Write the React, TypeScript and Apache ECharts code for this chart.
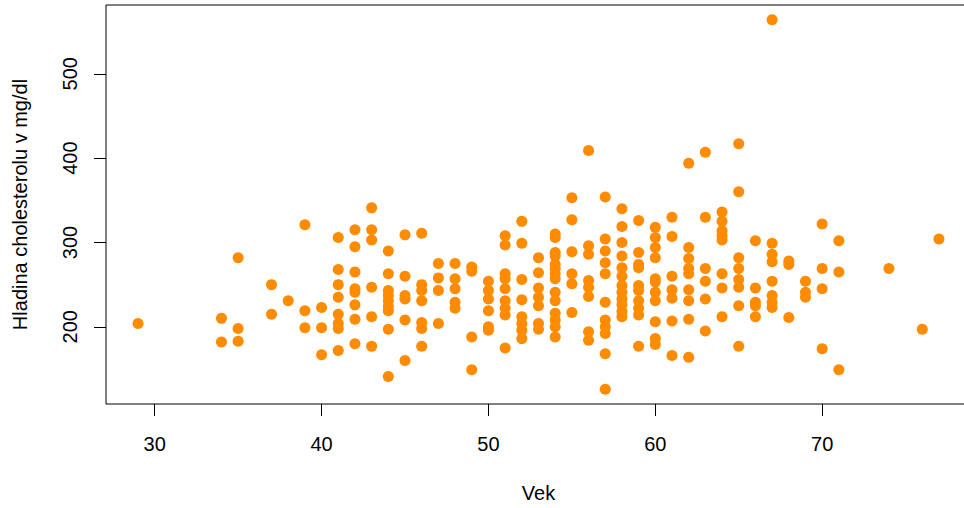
import React, { useEffect, useRef } from "react";
import * as echarts from "echarts";

// Age groups (x) and the cholesterol values (y) read for each age
const ages = [29, 34, 35, 37, 38, 39, 40, 41, 42, 43, 44, 45, 46, 47, 48, 49, 50, 51, 52, 53, 54, 55, 56, 57, 58, 59, 60, 61, 62, 63, 64, 65, 66, 67, 68, 69, 70, 71, 74, 76, 77];
const cholByAge = [
  [204],
  [210, 182],
  [282, 198, 183],
  [250, 215],
  [231],
  [321, 219, 199],
  [223, 199, 167],
  [306, 268, 250, 235, 215, 204, 198, 172],
  [315, 295, 265, 245, 241, 226, 209, 180],
  [341, 315, 303, 247, 212, 177],
  [290, 263, 243, 237, 231, 224, 219, 197, 141],
  [309, 260, 237, 233, 208, 160],
  [311, 250, 243, 231, 205, 198, 177],
  [275, 258, 243, 204],
  [275, 257, 245, 229, 222],
  [271, 266, 188, 149],
  [254, 243, 233, 219, 200, 196],
  [308, 297, 263, 257, 245, 231, 222, 214, 175],
  [325, 299, 256, 232, 212, 204, 196, 186],
  [282, 264, 246, 235, 225, 204, 197],
  [310, 306, 288, 284, 274, 269, 263, 257, 241, 231, 216, 208, 200, 188],
  [353, 327, 289, 263, 251, 217],
  [409, 296, 286, 255, 247, 236, 194, 184],
  [354, 304, 290, 276, 263, 229, 208, 200, 192, 168, 126],
  [340, 319, 300, 284, 270, 260, 249, 241, 233, 226, 218, 212],
  [326, 288, 274, 270, 249, 243, 231, 222, 214, 177],
  [318, 306, 294, 282, 257, 253, 241, 231, 206, 186, 179],
  [330, 307, 260, 244, 234, 207, 166],
  [394, 294, 281, 269, 263, 244, 231, 209, 164],
  [407, 330, 269, 254, 233, 195],
  [336, 325, 314, 308, 303, 263, 246, 212],
  [417, 360, 282, 269, 256, 247, 225, 177],
  [302, 246, 229, 225, 212],
  [564, 299, 286, 277, 254, 237, 229, 223],
  [278, 274, 211],
  [254, 241, 235],
  [322, 269, 245, 174],
  [302, 265, 149],
  [269],
  [197],
  [304],
];

const xTicks = [30, 40, 50, 60, 70];
const yTicks = [200, 300, 400, 500];
const xTitle = "Vek";
const yTitle = "Hladina cholesterolu v mg/dl";

const FONT = "'Liberation Sans', Arial, Helvetica, sans-serif";

export default function App() {
  const ref = useRef<HTMLDivElement>(null);

  useEffect(() => {
    if (!ref.current) return;
    const chart = echarts.init(ref.current, undefined, { renderer: "svg" });
    const points: number[][] = [];
    ages.forEach((a, i) => {
      cholByAge[i].forEach((c) => points.push([a, c]));
    });

    chart.setOption({
      animation: false,
      backgroundColor: "#ffffff",
      grid: {
        left: 106,
        right: 1,
        top: 5,
        bottom: 100,
        show: true,
        borderColor: "#000000",
        borderWidth: 1,
        backgroundColor: "transparent",
      },
      xAxis: {
        type: "value",
        min: 27.08,
        max: 78.92,
        splitLine: { show: false },
        axisLine: { show: false },
        axisTick: {
          show: true,
          customValues: xTicks,
          length: 12,
          lineStyle: { color: "#000000", width: 1 },
        },
        axisLabel: {
          customValues: xTicks,
          fontSize: 20,
          fontFamily: FONT,
          color: "#000000",
          margin: 30,
        },
        name: xTitle,
        nameLocation: "middle",
        nameGap: 79,
        nameTextStyle: { fontSize: 20, fontFamily: FONT, color: "#000000" },
      },
      yAxis: {
        type: "value",
        min: 108.48,
        max: 581.52,
        splitLine: { show: false },
        axisLine: { show: false },
        axisTick: {
          show: true,
          customValues: yTicks,
          length: 12,
          lineStyle: { color: "#000000", width: 1 },
        },
        axisLabel: {
          customValues: yTicks,
          rotate: 90,
          fontSize: 20,
          fontFamily: FONT,
          color: "#000000",
          margin: 26,
        },
        name: yTitle,
        nameLocation: "middle",
        nameGap: 76,
        nameRotate: 90,
        nameTextStyle: { fontSize: 20, fontFamily: FONT, color: "#000000" },
      },
      series: [
        {
          type: "scatter",
          data: points,
          symbol: "circle",
          symbolSize: 11,
          itemStyle: { color: "#FF8C00", opacity: 1 },
          emphasis: { disabled: true },
        },
      ],
    });

    return () => chart.dispose();
  }, []);

  return (
    <div
      style={{
        position: "fixed",
        left: 0,
        top: 0,
        width: 964,
        height: 508,
        overflow: "hidden",
        background: "#ffffff",
      }}
    >
      <div ref={ref} style={{ width: 972, height: 508 }} />
    </div>
  );
}
